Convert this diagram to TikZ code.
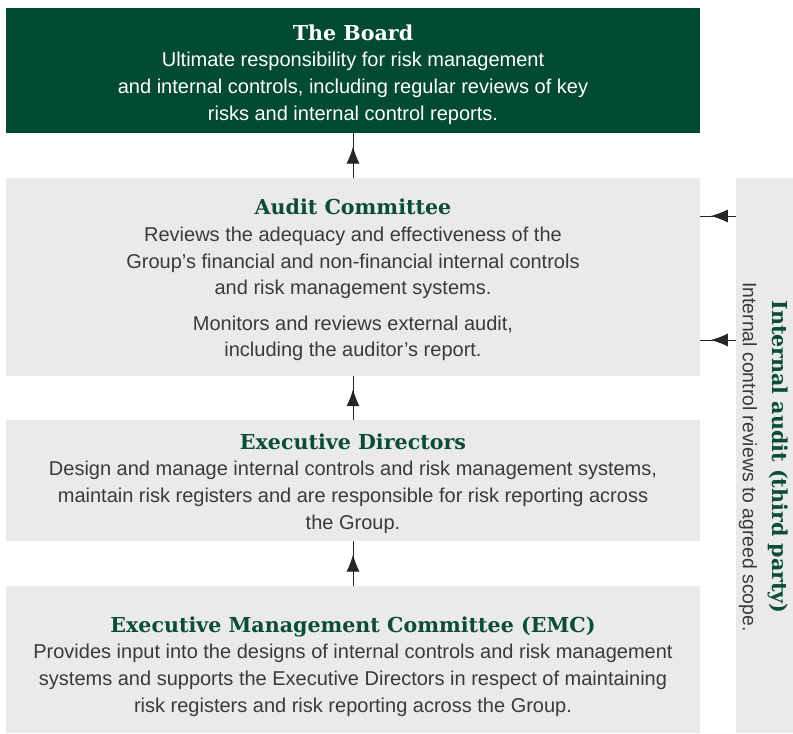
\documentclass[tikz,border=0pt]{standalone}
\usepackage{fontspec}
\setmainfont{Liberation Sans}
\newfontfamily\headfont{DejaVu Serif}
\usetikzlibrary{arrows.meta,decorations.markings}
\definecolor{boardgreen}{HTML}{024A31}
\definecolor{headgreen}{HTML}{0B4D33}
\definecolor{panelgrey}{HTML}{EAEAEC}
\definecolor{bodygrey}{HTML}{3A3A3A}
\newcommand{\headstyle}{\headfont\bfseries\fontsize{20.6}{26.7}\selectfont}
\tikzset{
  panel/.style={draw=none, fill=panelgrey, minimum width=694pt, inner sep=0pt, outer sep=0pt},
  sidepanel/.style={draw=none, fill=panelgrey, minimum width=57pt, minimum height=555pt, inner sep=0pt, outer sep=0pt},
  boardbox/.style={panel, fill=boardgreen, minimum height=125pt},
  bodytext/.style={align=center, text=bodygrey, font=\fontsize{20}{26.7}\selectfont, inner sep=0pt},
  flowarrow/.style={draw=black!85, line width=0.9pt, postaction={decorate},
    decoration={markings, mark=at position 0.7 with {\arrow{Latex[length=17pt,width=13pt]}}}},
}
\begin{document}
\begin{tikzpicture}[x=1pt,y=-1pt]
\useasboundingbox (0,0) rectangle (793,734);
% stacked panels
\node[boardbox] (board) at (353,70.5) {};
\node[panel, minimum height=198pt] (audit) at (353,277) {};
\node[panel, minimum height=121pt] (exec) at (353,480.5) {};
\node[panel, minimum height=147pt] (emc) at (353,659.5) {};
\node[sidepanel] (ia) at (764.5,455.5) {};
% panel texts
\node[bodytext, text=white] (boardtxt) at (353,74.5) {{\headstyle The Board}\\
Ultimate responsibility for risk management\\
and internal controls, including regular reviews of key\\
risks and internal control reports.};
\node[bodytext] (audittxt) at (353,280) {{\headstyle\color{headgreen} Audit Committee}\\
Reviews the adequacy and effectiveness of the\\
Group’s financial and non-financial internal controls\\
and risk management systems.\\[8.5pt]
Monitors and reviews external audit,\\
including the auditor’s report.};
\node[bodytext] (exectxt) at (353,483.5) {{\headstyle\color{headgreen} Executive Directors}\\
Design and manage internal controls and risk management systems,\\
maintain risk registers and are responsible for risk reporting across\\
the Group.};
\node[bodytext] (emctxt) at (353,666.5) {{\headstyle\color{headgreen} Executive Management Committee (EMC)}\\
Provides input into the designs of internal controls and risk management\\
systems and supports the Executive Directors in respect of maintaining\\
risk registers and risk reporting across the Group.};
% side panel texts, reading downwards
\node[rotate=-90, inner sep=0pt, text=headgreen, font=\headstyle] (iahead) at (778,457) {Internal audit (third party)};
\node[rotate=-90, inner sep=0pt, text=bodygrey, font=\fontsize{19.4}{26.7}\selectfont] (iabody) at (748,457) {Internal control reviews to agreed scope.};
% reporting lines
\draw[flowarrow] (audit.north) -- (board.south);
\draw[flowarrow] (exec.north) -- (audit.south);
\draw[flowarrow] (emc.north) -- (exec.south);
\coordinate (r1) at (0,216);
\coordinate (r2) at (0,340);
\draw[flowarrow] (ia.west |- r1) -- (audit.east |- r1);
\draw[flowarrow] (ia.west |- r2) -- (audit.east |- r2);
\end{tikzpicture}
\end{document}
